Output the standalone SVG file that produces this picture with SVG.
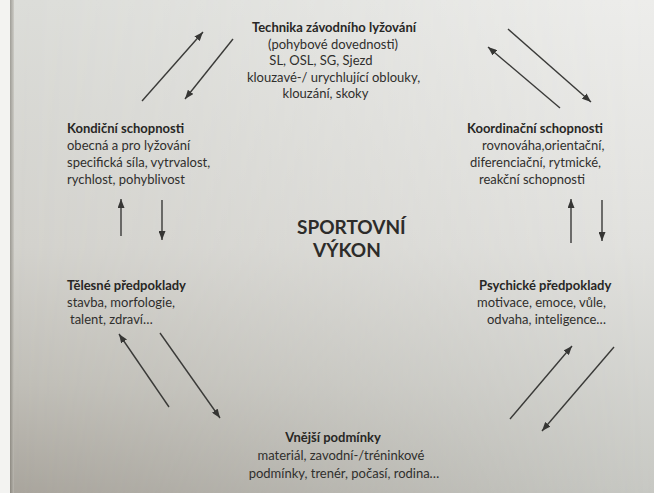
<svg xmlns="http://www.w3.org/2000/svg" width="654" height="493" viewBox="0 0 654 493">
  <defs>
    <!-- paper shading: left column and right column tones, blended across -->
    <linearGradient id="paperLeft" x1="0" y1="0" x2="0" y2="1">
      <stop offset="0" stop-color="#dcddd9"/>
      <stop offset="0.5" stop-color="#d3d2cd"/>
      <stop offset="0.78" stop-color="#c0beb7"/>
      <stop offset="1" stop-color="#a9a59d"/>
    </linearGradient>
    <linearGradient id="paperRight" x1="0" y1="0" x2="0" y2="1">
      <stop offset="0" stop-color="#ededeb"/>
      <stop offset="0.5" stop-color="#e1e1de"/>
      <stop offset="1" stop-color="#c7c8c3"/>
    </linearGradient>
    <linearGradient id="fadeX" x1="0" y1="0" x2="1" y2="0">
      <stop offset="0" stop-color="#fff" stop-opacity="0"/>
      <stop offset="1" stop-color="#fff" stop-opacity="1"/>
    </linearGradient>
    <mask id="rightSide" maskUnits="userSpaceOnUse" x="0" y="0" width="654" height="493">
      <rect x="10" y="0" width="644" height="493" fill="url(#fadeX)"/>
    </mask>
    <linearGradient id="edge" x1="0" y1="0" x2="1" y2="0">
      <stop offset="0" stop-color="#77746c"/>
      <stop offset="1" stop-color="#c3c1ba"/>
    </linearGradient>
    <marker id="head" viewBox="0 0 9 7" refX="9" refY="3.5" markerWidth="9" markerHeight="7" markerUnits="userSpaceOnUse" orient="auto">
      <path d="M0,0 L9,3.5 L0,7 z" fill="#363634"/>
    </marker>
  </defs>
  <style>
    text { font-family: Lato, "Liberation Sans", sans-serif; font-size: 13px; fill: #302f2d; }
    .b { font-weight: bold; fill: #282725; }
    .big { font-weight: bold; font-size: 19px; fill: #2d2c2a; }
    .m { text-anchor: middle; }
    .arrow { stroke: #3a3a38; stroke-width: 1.4; fill: none; marker-end: url(#head); }
  </style>

  <!-- sheet of paper on a white ground -->
  <rect x="0" y="0" width="654" height="493" fill="#f3f3f1"/>
  <rect x="10" y="0" width="644" height="493" fill="url(#paperLeft)"/>
  <rect x="10" y="0" width="644" height="493" fill="url(#paperRight)" mask="url(#rightSide)"/>
  <rect x="10" y="0" width="4" height="493" fill="url(#edge)" opacity="0.6"/>

  <!-- connectors -->
  <g id="connectors">
    <line class="arrow" x1="142" y1="101" x2="203" y2="32"/>
    <line class="arrow" x1="233" y1="39" x2="185" y2="99"/>
    <line class="arrow" x1="508" y1="29" x2="591" y2="102"/>
    <line class="arrow" x1="560" y1="108" x2="488" y2="47"/>
    <line class="arrow" x1="121" y1="236" x2="121" y2="199"/>
    <line class="arrow" x1="162" y1="200" x2="162" y2="240"/>
    <line class="arrow" x1="571" y1="243" x2="571" y2="199"/>
    <line class="arrow" x1="602" y1="200" x2="602" y2="241"/>
    <line class="arrow" x1="169" y1="407" x2="119" y2="334"/>
    <line class="arrow" x1="160" y1="333" x2="220" y2="418"/>
    <line class="arrow" x1="510" y1="419" x2="572" y2="346"/>
    <line class="arrow" x1="614" y1="347" x2="542" y2="431"/>
  </g>

  <g id="technika">
    <text class="b m" x="334" y="32">Technika závodního lyžování</text>
    <text class="m" x="333" y="48.5">(pohybové dovednosti)</text>
    <text class="m" x="321" y="65">SL, OSL, SG, Sjezd</text>
    <text class="m" x="333.5" y="81.5">klouzavé-/ urychlující oblouky,</text>
    <text class="m" x="325.5" y="98">klouzání, skoky</text>
  </g>

  <g id="kondicni">
    <text class="b" x="67" y="133">Kondiční schopnosti</text>
    <text x="67" y="150">obecná a pro lyžování</text>
    <text x="67" y="167">specifická síla, vytrvalost,</text>
    <text x="67" y="184">rychlost, pohyblivost</text>
  </g>

  <g id="koordinacni">
    <text class="b" x="467" y="133">Koordinační schopnosti</text>
    <text x="482" y="150">rovnováha,orientační,</text>
    <text x="470" y="167">diferenciační, rytmické,</text>
    <text x="479" y="184">reakční schopnosti</text>
  </g>

  <g id="vykon">
    <text class="big" x="297" y="234">SPORTOVNÍ</text>
    <text class="big" x="313" y="257">VÝKON</text>
  </g>

  <g id="telesne">
    <text class="b" x="67" y="290">Tělesné předpoklady</text>
    <text x="67" y="307">stavba, morfologie,</text>
    <text x="70" y="324">talent, zdraví…</text>
  </g>

  <g id="psychicke">
    <text class="b" x="479" y="290">Psychické předpoklady</text>
    <text x="477" y="307">motivace, emoce, vůle,</text>
    <text x="487" y="324">odvaha, inteligence…</text>
  </g>

  <g id="vnejsi">
    <text class="b m" x="333" y="442">Vnější podmínky</text>
    <text class="m" x="341" y="460">materiál, zavodní-/tréninkové</text>
    <text class="m" x="344" y="478">podmínky, trenér, počasí, rodina…</text>
  </g>
</svg>
